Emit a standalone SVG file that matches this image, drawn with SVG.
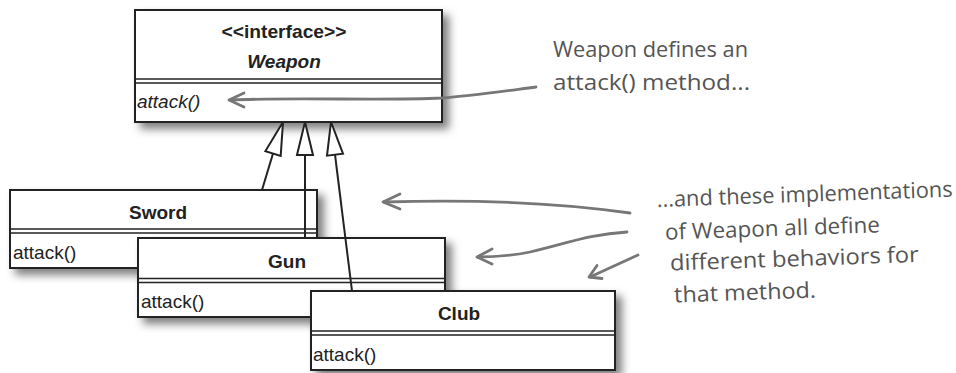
<svg xmlns="http://www.w3.org/2000/svg" width="956" height="373" viewBox="0 0 956 373">
<defs>
<filter id="sh" x="-5%" y="-10%" width="115%" height="130%">
<feDropShadow dx="6" dy="6" stdDeviation="4" flood-color="#000" flood-opacity="0.5"/>
</filter>
<style>
.box{fill:#fff;stroke:#222;stroke-width:2}
.sep{stroke:#222;stroke-width:1.5;fill:none}
.title{font-family:"Liberation Sans",Arial,sans-serif;font-weight:bold;font-size:19px;fill:#222;text-anchor:middle}
.op{font-family:"Liberation Sans",Arial,sans-serif;font-size:19px;fill:#222}
.edge{stroke:#222;stroke-width:2;fill:none}
.tri{stroke:#222;stroke-width:2;fill:#fff;stroke-linejoin:miter}
.note{stroke:#777;stroke-width:2.8;fill:none;stroke-linecap:round;stroke-linejoin:round}
.hand{font-family:"Open Sans","DejaVu Sans",sans-serif;font-size:22px;fill:#555}
</style>
</defs>
<rect width="956" height="373" fill="#fff"/>

<g id="weapon">
<rect class="box" x="135" y="10" width="307" height="112" filter="url(#sh)"/>
<line class="sep" x1="135" y1="79" x2="442" y2="79"/>
<line class="sep" x1="135" y1="83" x2="442" y2="83"/>
<text class="title" x="284" y="38" font-size="17" textLength="125" lengthAdjust="spacingAndGlyphs">&lt;&lt;interface&gt;&gt;</text>
<text class="title" x="284" y="68" font-style="italic">Weapon</text>
<text class="op" x="137" y="108" font-style="italic">attack()</text>
</g>

<g id="sword">
<rect class="box" x="10" y="190" width="307" height="78" filter="url(#sh)"/>
<line class="sep" x1="10" y1="229" x2="317" y2="229"/>
<line class="sep" x1="10" y1="233" x2="317" y2="233"/>
<text class="title" x="158" y="219">Sword</text>
<text class="op" x="13" y="259">attack()</text>
</g>

<g id="gun">
<rect class="box" x="138" y="238" width="307" height="79" filter="url(#sh)"/>
<line class="sep" x1="138" y1="278.5" x2="445" y2="278.5"/>
<line class="sep" x1="138" y1="282.5" x2="445" y2="282.5"/>
<text class="title" x="287" y="268">Gun</text>
<text class="op" x="141" y="308">attack()</text>
</g>

<g id="club">
<rect class="box" x="311" y="291" width="304" height="79" filter="url(#sh)"/>
<line class="sep" x1="311" y1="331" x2="615" y2="331"/>
<line class="sep" x1="311" y1="335" x2="615" y2="335"/>
<text class="title" x="459" y="320">Club</text>
<text class="op" x="313" y="361">attack()</text>
</g>

<g id="connectors">
<line class="edge" x1="262" y1="190" x2="273" y2="153.5"/>
<polygon class="tri" points="283,122 265.4,151.1 280.7,155.9"/>
<line class="edge" x1="305" y1="155" x2="305" y2="238"/>
<polygon class="tri" points="305,122 297,155 313,155"/>
<line class="edge" x1="352" y1="291" x2="335" y2="154.7"/>
<polygon class="tri" points="331,122 327,155.7 343,153.7"/>

<path class="note" d="M536 87 C505 91 470 96 442 98 C380 101 300 97 230 100"/>
<path class="note" d="M244 93 L229 100 L244 107"/>
<path class="note" d="M630 213 C560 203 480 199 384 202"/>
<path class="note" d="M400 194 L383 202 L400 209"/>
<path class="note" d="M627 232 C590 234 565 244 530 252 C510 256 495 257 478 257"/>
<path class="note" d="M492 249 L477 257 L492 264"/>
<path class="note" d="M638 255 L590 277"/>
<path class="note" d="M597 265.5 L589 277 L602 278.5"/>
</g>

<g id="note-weapon">
<text class="hand" x="553" y="57" textLength="195" lengthAdjust="spacingAndGlyphs">Weapon defines an</text>
<text class="hand" x="553" y="90" textLength="197" lengthAdjust="spacingAndGlyphs">attack() method...</text>
</g>

<g id="note-impl" transform="rotate(-2 657 207)">
<text class="hand" x="657" y="207" textLength="296" lengthAdjust="spacingAndGlyphs">...and these implementations</text>
<text class="hand" x="664" y="240" textLength="215" lengthAdjust="spacingAndGlyphs">of Weapon all define</text>
<text class="hand" x="668" y="271" textLength="249" lengthAdjust="spacingAndGlyphs">different behaviors for</text>
<text class="hand" x="671" y="303" textLength="142" lengthAdjust="spacingAndGlyphs">that method.</text>
</g>
</svg>
